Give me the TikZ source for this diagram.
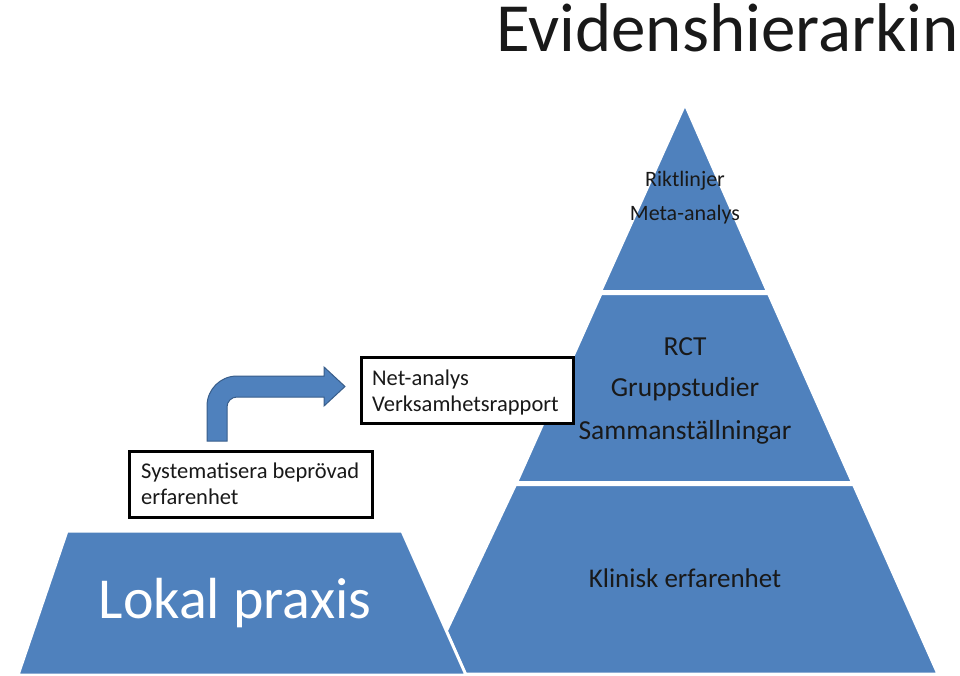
\documentclass[tikz,border=0pt]{standalone}
\usepackage{fontspec}
\setmainfont{Carlito}
\definecolor{pyr}{RGB}{79,129,189}
\definecolor{pyrline}{RGB}{56,93,138}
\begin{document}
\begin{tikzpicture}[x=1pt,y=-1pt,
  piece/.style={fill=pyr,draw=white,line width=3pt,line join=miter},
  frame/.style={draw=black,line width=3pt,fill=white},
  lbl/.style={font=\fontsize{#1}{#1}\selectfont,text=black!90,inner sep=0pt}
]
\useasboundingbox (0,0) rectangle (960,676);
% big pyramid
\path[piece] (685,104) -- (767.5,291.5) -- (600.5,291.5) -- cycle;
\path[piece] (601,293.5) -- (768.5,293.5) -- (852.5,482.5) -- (516.5,482.5) -- cycle;
\path[piece] (515.5,484.5) -- (853.5,484.5) -- (938,674) -- (426,674) -- cycle;
% local trapezoid
\path[piece] (67,531) -- (402,531) -- (466,675) -- (18,675) -- cycle;
% texts
\node[lbl=69,anchor=base east] (title) at (959,52) {Evidenshierarkin};
\node[lbl=22,anchor=base] (rikt) at (685,187) {Riktlinjer};
\node[lbl=22,anchor=base] (meta) at (685,221) {Meta-analys};
\node[lbl=27.5,anchor=base] (rct) at (685,355) {RCT};
\node[lbl=27.5,anchor=base] (grupp) at (685,396) {Gruppstudier};
\node[lbl=27.5,anchor=base] (samm) at (685,439) {Sammanställningar};
\node[lbl=27,anchor=base] (klin) at (685,587) {Klinisk erfarenhet};
\node[lbl=58,anchor=base,text=white] (lokal) at (235,618) {Lokal praxis};
% boxes
\draw[frame] (361,357) rectangle (573,423);
\node[lbl=22.5,anchor=base west] (net) at (372,385) {Net-analys};
\node[lbl=22.5,anchor=base west] (verk) at (372,411) {Verksamhetsrapport};
\draw[frame] (129,451) rectangle (372,517);
\node[lbl=22.5,anchor=base west] (sys) at (141,478) {Systematisera beprövad};
\node[lbl=22.5,anchor=base west] (erf) at (141,504) {erfarenhet};
% bent arrow
\path[fill=pyr,draw=pyrline,line width=1pt,line join=miter]
  (207,441) -- (207,406) .. controls (207,389.4) and (220.4,376) .. (237,376)
  -- (324,376) -- (324,367) -- (345,386.5) -- (324,406) -- (324,397)
  -- (237,397) .. controls (231.5,397) and (227,401.5) .. (227,407)
  -- (227,441) -- cycle;
\end{tikzpicture}
\end{document}
